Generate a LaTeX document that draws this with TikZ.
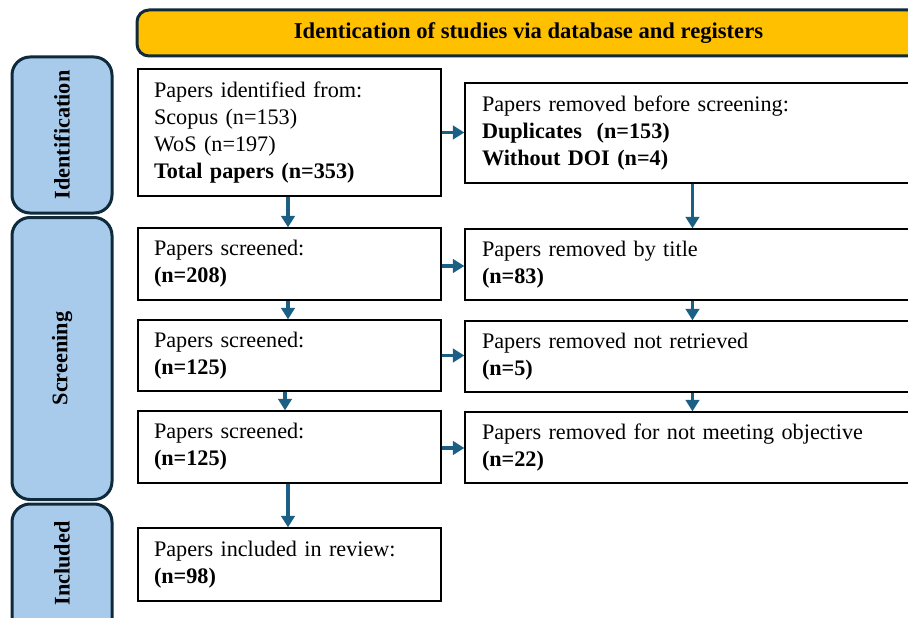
\documentclass[tikz,border=0pt]{standalone}
\usepackage{fontspec}
\setmainfont{Liberation Serif}
\usetikzlibrary{arrows.meta}
\definecolor{hdrfill}{HTML}{FFC000}
\definecolor{navy}{HTML}{0E2A3B}
\definecolor{lblfill}{HTML}{A8CBEC}
\definecolor{arrowc}{HTML}{1C5F85}
\tikzset{
  hdr/.style={draw=navy, line width=3pt, fill=hdrfill, rounded corners=12pt, minimum width=783pt, minimum height=46pt, inner sep=0pt, font=\fontsize{22.6}{27}\selectfont\bfseries},
  lbl/.style={draw=navy, line width=3pt, fill=lblfill, rounded corners=18pt, minimum width=100pt, inner sep=0pt},
  lbltxt/.style={rotate=90, font=\fontsize{22.3}{27}\selectfont\bfseries, inner sep=0pt},
  lbox/.style={draw=black, line width=1.3pt, fill=white, minimum width=303pt, text width=271pt, align=left, inner sep=0pt, font=\fontsize{22.2}{27}\selectfont},
  rbox/.style={draw=black, line width=1.3pt, fill=white, minimum width=455pt, text width=421pt, align=left, inner sep=0pt, font=\fontsize{22.2}{27}\selectfont},
  conn/.style={draw=arrowc, line width=3.2pt, -{Triangle[width=13.5pt,length=11.5pt]}}
}
\begin{document}
\begin{tikzpicture}[x=1pt,y=-1pt]
\useasboundingbox (0,0) rectangle (908,618);
\clip (0,0) rectangle (908,618);
% header
\node[hdr] (header) at (528.5,33) {Identication of studies via database and registers};
% stage labels
\node[lbl, minimum height=156pt] (lid) at (62,135) {};
\node[lbltxt] (tid) at (lid.center) {Identification};
\node[lbl, minimum height=282pt] (lsc) at (62,358.5) {};
\node[lbltxt] (tsc) at (lsc.center) {Screening};
\node[lbl, minimum height=140pt] (lin) at (62,574) {};
\node[lbltxt] (tin) at (62,563.5) {Included};
% left boxes
\node[lbox, minimum height=127pt] (b1) at (289.5,132.5) {Papers identified from:\\Scopus (n=153)\\WoS (n=197)\\\textbf{Total papers (n=353)}};
\node[lbox, minimum height=72pt] (b2) at (289.5,264) {Papers screened:\\\textbf{(n=208)}};
\node[lbox, minimum height=71pt] (b3) at (289.5,355.5) {Papers screened:\\\textbf{(n=125)}};
\node[lbox, minimum height=72pt] (b4) at (289.5,447) {Papers screened:\\\textbf{(n=125)}};
\node[lbox, minimum height=73pt] (b5) at (289.5,564.5) {Papers included in review:\\\textbf{(n=98)}};
% right boxes
\node[rbox, minimum height=100pt] (r1) at (692.5,133) {Papers removed before screening:\\\textbf{Duplicates\ \ (n=153)}\\\textbf{Without DOI (n=4)}};
\node[rbox, minimum height=71pt] (r2) at (692.5,264.5) {Papers removed by title\\\textbf{(n=83)}};
\node[rbox, minimum height=71pt] (r3) at (692.5,356.5) {Papers removed not retrieved\\\textbf{(n=5)}};
\node[rbox, minimum height=71pt] (r4) at (692.5,447.5) {Papers removed for not meeting objective\\\textbf{(n=22)}};
% vertical connectors
\draw[conn] ([xshift=-1.5pt]b1.south) -- ([xshift=-1.5pt]b2.north);
\draw[conn] ([xshift=-1.5pt]b2.south) -- ([xshift=-1.5pt]b3.north);
\draw[conn] ([xshift=-4.5pt]b3.south) -- ([xshift=-4.5pt]b4.north);
\draw[conn] ([xshift=-1.5pt]b4.south) -- ([xshift=-1.5pt]b5.north);
\draw[conn] (r1.south) -- (r2.north);
\draw[conn] (r2.south) -- (r3.north);
\draw[conn] (r3.south) -- (r4.north);
% horizontal connectors
\draw[conn] (b1.east) -- (b1.east -| r1.west);
\draw[conn] ([yshift=-2pt]b2.east) -- ([yshift=-2pt]b2.east -| r2.west);
\draw[conn] (b3.east) -- (b3.east -| r3.west);
\draw[conn] ([yshift=-1pt]b4.east) -- ([yshift=-1pt]b4.east -| r4.west);
\end{tikzpicture}
\end{document}
